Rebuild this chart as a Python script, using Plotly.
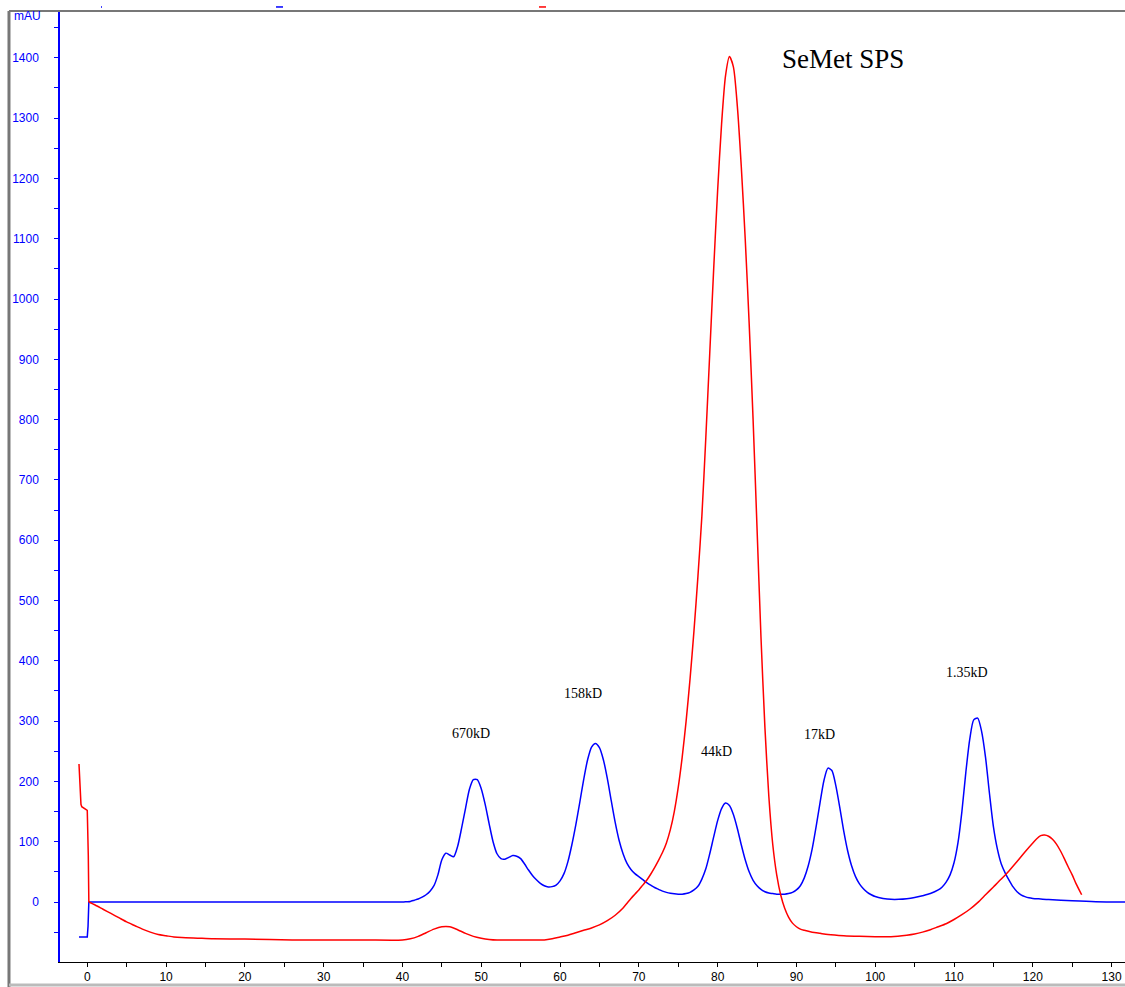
import plotly.graph_objects as go

# ---- data ----
# UV trace (blue): start-up step
blue_step_x = [-1.05, 0.0, 0.1, 0.2]
blue_step_y = [-58, -58, -40, 0]
# UV trace (blue): main elution profile
blue_x = [0.2, 20, 40, 40.5, 41, 41.5, 42, 42.5, 43, 43.5, 44, 44.5, 45, 45.5, 46, 46.5, 47, 47.5,
          48, 48.5, 49, 49.5, 50, 50.5, 51, 51.5, 52, 52.5, 53, 53.5, 54, 54.5, 55, 55.5, 56, 56.5,
          57, 57.5, 58, 58.5, 59, 59.5, 60, 60.5, 61, 61.5, 62, 62.5, 63, 63.5, 64, 64.5, 65, 65.5,
          66, 66.5, 67, 67.5, 68, 68.5, 69, 69.5, 70, 70.5, 71, 71.5, 72, 72.5, 73, 73.5, 74, 74.5,
          75, 75.5, 76, 76.5, 77, 77.5, 78, 78.5, 79, 79.5, 80, 80.5, 81, 81.5, 82, 82.5, 83, 83.5,
          84, 84.5, 85, 85.5, 86, 86.5, 87, 87.5, 88, 88.5, 89, 89.5, 90, 90.5, 91, 91.5, 92, 92.5,
          93, 93.5, 94, 94.5, 95, 95.5, 96, 96.5, 97, 97.5, 98, 98.5, 99, 99.5, 100, 101, 102, 103,
          104, 105, 106, 107, 108, 108.5, 109, 109.5, 110, 110.5, 111, 111.5, 112, 112.5, 113, 113.5,
          114, 114.5, 115, 115.5, 116, 116.5, 117, 117.5, 118, 118.5, 119, 119.5, 120, 121, 122,
          125, 128, 132]
blue_y = [0, 0, 0, 0.5, 1, 3, 5, 8, 12, 18, 27, 45, 70, 81, 78, 75, 92, 122,
          155, 187, 203, 203, 188, 162, 130, 100, 80, 72, 71, 74, 77, 76, 72, 63, 53, 44,
          37, 31, 27, 25, 25.5, 28, 35, 47, 67, 95, 128, 165, 203, 236, 257, 263, 256, 236,
          205, 168, 132, 102, 80, 64, 54, 47, 42, 37, 32, 28, 24, 21, 18, 16, 14.5, 13.5,
          13, 13, 14, 16, 20, 26, 38, 55, 80, 108, 135, 155, 164, 160, 145, 122, 95, 70,
          50, 36, 27, 21, 17, 15, 14, 13, 13, 13, 14, 16, 20, 27, 40, 60, 88, 125,
          165, 202, 222, 218, 193, 157, 118, 85, 60, 42, 30, 22, 16, 12, 9, 6, 4.5, 4.5,
          5.5, 7.5, 10.5, 14, 20, 25, 33, 45, 65, 98, 150, 215, 270, 302, 305, 283,
          240, 180, 125, 88, 63, 48, 36, 25, 17, 12, 9, 7, 6, 5, 4,
          2, 0.5, 0]

# second trace (red): start-up part
red_step_x = [-1.05, -1.0, -0.95, -0.8, -0.7, 0.0, 0.13, 0.2]
red_step_y = [229, 215, 180, 162, 158, 152, 77, 0]
# second trace (red): main profile
red_x = [0.2, 1, 2, 3, 4, 5, 6, 7, 8, 9, 10, 11, 12, 14, 16, 20, 26, 35, 40, 41, 42, 43, 44, 45,
         46, 47, 48, 49, 50, 51, 52, 55, 58, 59, 60, 61, 62, 63, 64, 65, 66, 67, 68, 68.5, 69,
         69.5, 70, 70.5, 71, 71.5, 72, 72.5, 73, 73.5, 74, 74.5, 75, 75.5, 76, 76.5, 77, 77.5, 78,
         78.5, 79, 79.5, 80, 80.5, 81, 81.5, 82, 82.5, 83, 83.5, 84, 84.5, 85, 85.5, 86, 86.5, 87,
         87.5, 88, 88.5, 89, 89.5, 90, 90.5, 91, 92, 93, 94, 96, 98, 100, 102, 104, 105, 106, 107,
         108, 109, 110, 111, 112, 113, 114, 115, 116, 117, 118, 119, 120, 120.5, 121, 121.5, 122,
         122.5, 123, 123.5, 124, 124.5, 125, 125.5, 126.2]
red_y = [0, -5, -12, -19, -26, -33, -39, -45, -50, -54, -56, -58, -59, -60, -61, -61.5, -63, -63, -63, -61, -57, -51, -45, -41,
         -41, -46, -52, -57, -60, -62, -63, -63, -63, -61, -58, -55, -51, -47, -43, -38, -31, -22, -10, -2, 6,
         13, 20, 28, 36, 46, 57, 69, 82, 98, 120, 150, 190, 240, 300, 370, 450, 540, 640,
         770, 910, 1050, 1180, 1290, 1370, 1402, 1385, 1320, 1220, 1100, 960, 800, 620, 440, 290, 175, 95,
         45, 12, -10, -25, -35, -41, -45, -47, -50, -52, -54, -56, -57, -57.5, -57.5, -55, -53, -50, -46,
         -41, -36, -29, -21, -12, -1, 12, 25, 38, 52, 67, 83, 98, 105, 110, 111, 109,
         104, 96, 85, 72, 58, 45, 30, 12]

peak_labels = ["670kD", "158kD", "44kD", "17kD", "1.35kD"]
peak_label_x = [48.7, 62.9, 79.8, 92.9, 111.6]
peak_label_y = [280, 345, 249, 277, 381]

title_text = "SeMet SPS"
unit_label = "mAU"

BLUE = "#0000FF"
RED = "#FF0000"

fig = go.Figure()
fig.add_trace(go.Scatter(x=blue_step_x, y=blue_step_y, mode="lines",
                         line=dict(color=BLUE, width=1.5), showlegend=False, hoverinfo="skip"))
fig.add_trace(go.Scatter(x=blue_x, y=blue_y, mode="lines",
                         line=dict(color=BLUE, width=1.5, shape="spline", smoothing=0.7),
                         showlegend=False))
fig.add_trace(go.Scatter(x=red_step_x, y=red_step_y, mode="lines",
                         line=dict(color=RED, width=1.5), showlegend=False, hoverinfo="skip"))
fig.add_trace(go.Scatter(x=red_x, y=red_y, mode="lines",
                         line=dict(color=RED, width=1.5, shape="spline", smoothing=0.7),
                         showlegend=False))

for t, x, y in zip(peak_labels, peak_label_x, peak_label_y):
    fig.add_annotation(x=x, y=y, text=t, showarrow=False,
                       font=dict(family="Liberation Serif, Times New Roman, serif", size=14, color="black"))

fig.add_annotation(x=95.9, y=1398, text=title_text, showarrow=False,
                   font=dict(family="Liberation Serif, Times New Roman, serif", size=27, color="black"))

fig.add_annotation(xref="paper", yref="paper", x=-0.045, y=0.996, xanchor="left", yanchor="middle",
                   text=unit_label, showarrow=False,
                   font=dict(family="Liberation Sans, Arial, sans-serif", size=12, color=BLUE))

# window frame (grey) and legend remnants above the plot
frame = [
    dict(x0=-0.0479, x1=-0.0479, y0=-0.03, y1=1.0011, color="#777777", width=3),
    dict(x0=-0.0479, x1=1.0, y0=1.0011, y1=1.0011, color="#777777", width=2),
    dict(x0=-0.0479, x1=1.0, y0=-0.0242, y1=-0.0242, color="#bbbbbb", width=3),
]
for f in frame:
    fig.add_shape(type="line", xref="paper", yref="paper", x0=f["x0"], x1=f["x1"],
                  y0=f["y0"], y1=f["y1"], line=dict(color=f["color"], width=f["width"]))
fig.add_shape(type="line", xref="paper", yref="paper", x0=(276-60)/1065, x1=(283-60)/1065,
              y0=1.0053, y1=1.0053, line=dict(color=BLUE, width=1.5))
fig.add_shape(type="line", xref="paper", yref="paper", x0=(539-60)/1065, x1=(546-60)/1065,
              y0=1.0053, y1=1.0053, line=dict(color=RED, width=1.5))
fig.add_shape(type="line", xref="paper", yref="paper", x0=(101-60)/1065, x1=(102-60)/1065,
              y0=1.0053, y1=1.0053, line=dict(color=BLUE, width=1.5))

fig.update_layout(
    width=1125, height=987,
    margin=dict(l=60, r=0, t=12, b=25),
    paper_bgcolor="white", plot_bgcolor="white",
    showlegend=False,
    xaxis=dict(range=[-3.46, 131.7], showgrid=False, zeroline=False,
               showline=True, linecolor="black", linewidth=1,
               ticks="outside", ticklen=4, tickcolor="black",
               tick0=0, dtick=10,
               minor=dict(ticks="outside", ticklen=4, tickcolor="black", dtick=5, tick0=0),
               tickfont=dict(family="Liberation Sans, Arial, sans-serif", size=12, color="black"),
               ticklabelstandoff=0),
    yaxis=dict(range=[-99.5, 1476], showgrid=False, zeroline=False,
               showline=True, linecolor=BLUE, linewidth=1.5,
               ticks="outside", ticklen=4, tickcolor=BLUE,
               tick0=0, dtick=100,
               minor=dict(ticks="outside", ticklen=4, tickcolor=BLUE, dtick=50, tick0=0),
               tickfont=dict(family="Liberation Sans, Arial, sans-serif", size=12, color=BLUE),
               ticklabelstandoff=13),
)

fig.write_html("out.html")
